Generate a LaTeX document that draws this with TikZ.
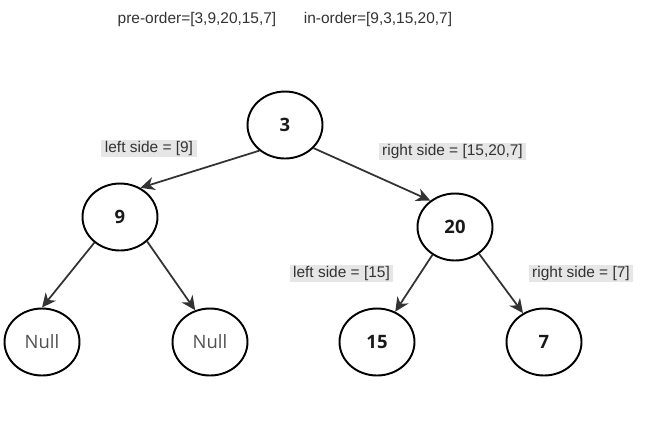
\documentclass[tikz,border=0pt]{standalone}
\usepackage{fontspec}
\setmainfont{Liberation Sans}
\newfontfamily\nodefont{Open Sans}
\usetikzlibrary{arrows.meta,shapes.geometric}
\usepackage{xcolor}
\definecolor{edgeGray}{RGB}{51,51,51}
\definecolor{boxGray}{RGB}{230,230,230}
\definecolor{nullGray}{RGB}{80,80,80}

\begin{document}
\begin{tikzpicture}[x=0.02cm,y=-0.02cm,
        treenode/.style={ellipse,draw=black,line width=1.1pt,minimum width=1.5cm,minimum height=1.34cm,inner sep=0pt,font=\nodefont\fontsize{10.5}{12}\selectfont\bfseries,text=black!90},
        nullnode/.style={treenode,font=\nodefont\fontsize{10.5}{12}\selectfont,text=nullGray},
        sidebox/.style={fill=boxGray,text=edgeGray,font=\fontsize{8.8}{10}\selectfont,inner xsep=2pt,inner ysep=0.5pt,text height=6.8pt,text depth=2pt},
        branch/.style={draw=edgeGray,line width=1pt,-{Stealth[length=8pt,width=7.5pt,inset=2.5pt]}}]
        \useasboundingbox (0,0) rectangle (659,424);
        % orders
        \node[text=edgeGray,font=\fontsize{8.8}{10}\selectfont] (pre) at (197,19) {pre-order=[3,9,20,15,7]};
        \node[text=edgeGray,font=\fontsize{8.8}{10}\selectfont] (in) at (378,19) {in-order=[9,3,15,20,7]};
        % tree
        \node[treenode] (n3) at (285,125) {3};
        \node[treenode] (n9) at (120,217) {9};
        \node[treenode] (n20) at (455,227) {20};
        \node[nullnode] (nullL) at (42,342) {Null};
        \node[nullnode] (nullR) at (210,342) {Null};
        \node[treenode] (n15) at (377,342) {15};
        \node[treenode] (n7) at (544,342) {7};
        % branches
        \draw[branch] (n3.225) -- (n9.55);
        \draw[branch] (n3.-39) -- (n20.133);
        \draw[branch] (n9.225) -- (nullL.90);
        \draw[branch] (n9.-42) -- (nullR.115);
        \draw[branch] (n20.231) -- (n15.59);
        \draw[branch] (n20.-48) -- (n7.126);
        % sides
        \node[sidebox] (l9) at (149,148.5) {left side = [9]};
        \node[sidebox] (r20) at (452.5,151.5) {right side = [15,20,7]};
        \node[sidebox] (l15) at (341.5,273.5) {left side = [15]};
        \node[sidebox] (r7) at (581,273.5) {right side = [7]};
\end{tikzpicture}
\end{document}
